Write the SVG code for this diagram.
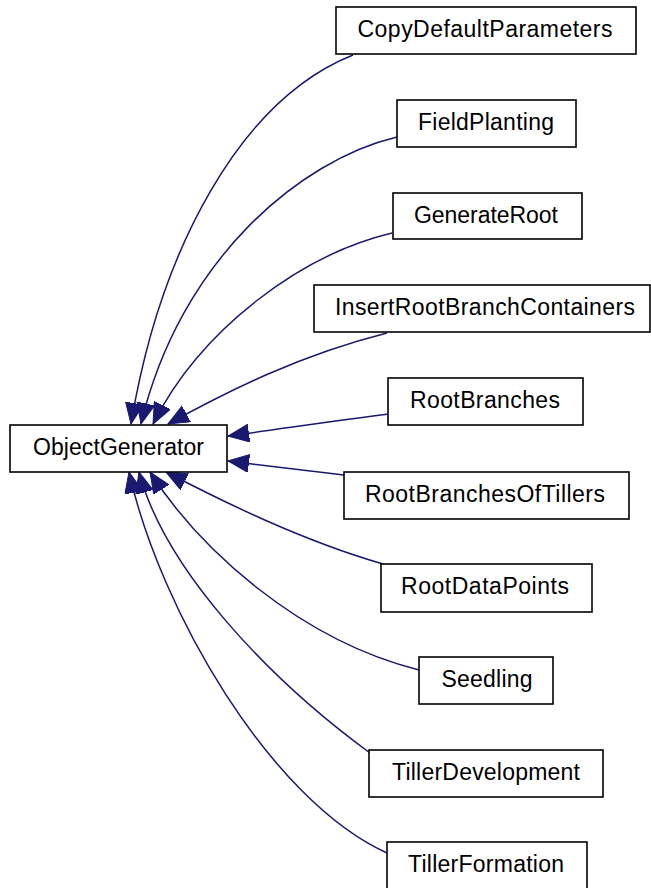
<svg xmlns="http://www.w3.org/2000/svg" width="651" height="888" viewBox="0 0 651 888">
<style>
.box{fill:#fff;stroke:#000;stroke-width:1.6}
.lbl{font-family:"Liberation Sans",Arial,sans-serif;font-size:23px;fill:#000;text-anchor:middle}
.edge{fill:none;stroke:#191970;stroke-width:1.5;marker-end:url(#ah)}
</style>
<defs>
<marker id="ah" markerUnits="userSpaceOnUse" markerWidth="24" markerHeight="20" refX="21" refY="9" orient="auto">
<path d="M0,0 L21,9 L0,18 Z" fill="#191970" stroke="#191970" stroke-width="1"/>
</marker>
</defs>
<rect width="651" height="888" fill="#fff"/>
<g id="connectors">
<path class="edge" d="M353,55 C240,100 160,250 131,424"/>
<path class="edge" d="M397,137 C300,160 180,260 141,424"/>
<path class="edge" d="M392,233 C300,255 200,330 153,424"/>
<path class="edge" d="M387,333 C300,355 230,390 168,424"/>
<path class="edge" d="M389,414 C340,420 280,429 228,436"/>
<path class="edge" d="M344,475 C300,470 270,466 228,461"/>
<path class="edge" d="M383,564 C300,540 220,500 166,472"/>
<path class="edge" d="M419,670 C300,640 200,550 150,472"/>
<path class="edge" d="M370,753 C270,680 165,570 139,472"/>
<path class="edge" d="M387,853 C270,800 160,610 129,472"/>
</g>
<g id="ObjectGenerator"><rect class="box" x="10" y="425" width="217" height="47"/><text class="lbl" x="118.5" y="455" textLength="171" lengthAdjust="spacing">ObjectGenerator</text></g>
<g id="CopyDefaultParameters"><rect class="box" x="336" y="7" width="300" height="47"/><text class="lbl" x="485" y="37" textLength="255" lengthAdjust="spacing">CopyDefaultParameters</text></g>
<g id="FieldPlanting"><rect class="box" x="397" y="100" width="179" height="47"/><text class="lbl" x="486" y="130" textLength="136" lengthAdjust="spacing">FieldPlanting</text></g>
<g id="GenerateRoot"><rect class="box" x="393" y="193" width="189" height="46"/><text class="lbl" x="486" y="223" textLength="144" lengthAdjust="spacing">GenerateRoot</text></g>
<g id="InsertRootBranchContainers"><rect class="box" x="314" y="285" width="336" height="47"/><text class="lbl" x="485" y="315" textLength="300" lengthAdjust="spacing">InsertRootBranchContainers</text></g>
<g id="RootBranches"><rect class="box" x="388" y="378" width="195" height="47"/><text class="lbl" x="485" y="408" textLength="150" lengthAdjust="spacing">RootBranches</text></g>
<g id="RootBranchesOfTillers"><rect class="box" x="344" y="472" width="285" height="47"/><text class="lbl" x="485" y="502" textLength="240" lengthAdjust="spacing">RootBranchesOfTillers</text></g>
<g id="RootDataPoints"><rect class="box" x="381" y="564" width="211" height="48"/><text class="lbl" x="485" y="594" textLength="168" lengthAdjust="spacing">RootDataPoints</text></g>
<g id="Seedling"><rect class="box" x="419" y="657" width="134" height="47"/><text class="lbl" x="487" y="687" textLength="91" lengthAdjust="spacing">Seedling</text></g>
<g id="TillerDevelopment"><rect class="box" x="369" y="750" width="234" height="47"/><text class="lbl" x="486" y="780" textLength="188" lengthAdjust="spacing">TillerDevelopment</text></g>
<g id="TillerFormation"><rect class="box" x="387" y="842" width="200" height="47"/><text class="lbl" x="486" y="872" textLength="156" lengthAdjust="spacing">TillerFormation</text></g>
</svg>
